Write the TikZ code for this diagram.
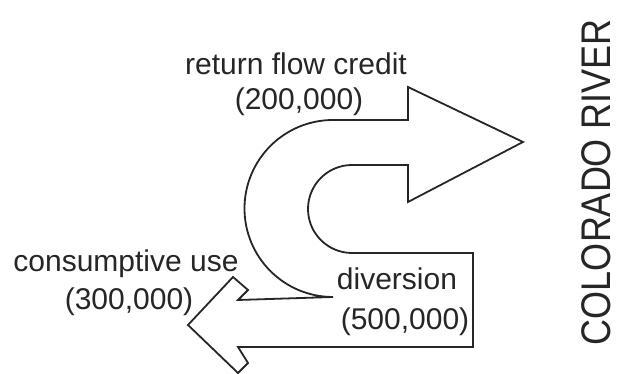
\documentclass[tikz,border=0pt]{standalone}
\usepackage{fontspec}
\setmainfont{Liberation Sans}
\usetikzlibrary{positioning}

\begin{document}
\begin{tikzpicture}[x=1pt, y=1pt,
    flow/.style={draw=black!85, line width=1.8pt, line join=miter},
    lbl/.style={anchor=base, inner sep=0pt, text=black!85, font=\fontsize{30}{34}\selectfont},
    river/.style={rotate=90, yscale=1.15, inner sep=0pt, text=black!85, font=\fontsize{36}{40}\selectfont}]
\useasboundingbox (0,0) rectangle (622,374);
\draw[flow] (333,254) -- (408,254) -- (408,287) -- (523,232) -- (408,172) -- (408,209) -- (352,209)
    arc[start angle=90, end angle=270, radius=44] -- (473,121) -- (473,27) -- (238,27)
    -- (248,11) -- (238,1) -- (188,49) -- (233,97) -- (248,84) -- (238,74) -- (333,77)
    arc[start angle=-90, end angle=-270, radius=88.5] -- cycle;
\path
    node[lbl] (ret) at (296,299) {return flow credit}
    node[lbl] (retamt) at (299,264) {(200,000)}
    node[lbl] (cons) at (126,102) {consumptive use}
    node[lbl] (consamt) at (129,64) {(300,000)}
    node[lbl] (div) at (397,84) {diversion}
    node[lbl] (divamt) at (405,44) {(500,000)}
    node[river] (river) at (596,192) {COLORADO RIVER};
\end{tikzpicture}
\end{document}
